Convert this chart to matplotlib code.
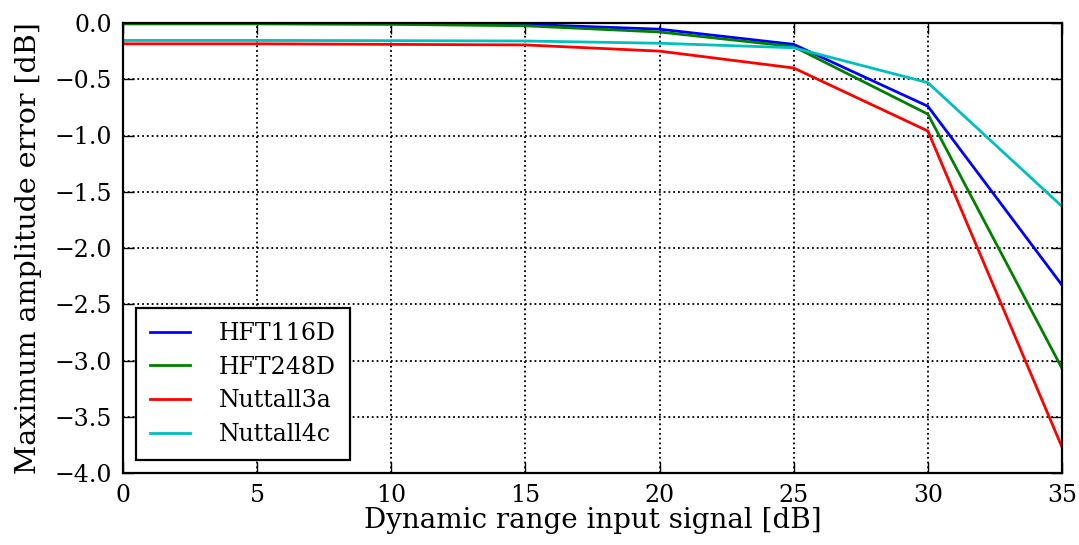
import matplotlib
matplotlib.use("Agg")
import matplotlib.pyplot as plt

# Data
x = [0, 5, 10, 15, 20, 25, 30, 35]
hft116d = [-0.005, -0.005, -0.007, -0.012, -0.055, -0.19, -0.74, -2.33]
hft248d = [-0.008, -0.008, -0.012, -0.025, -0.08, -0.21, -0.81, -3.07]
nuttall3a = [-0.185, -0.185, -0.19, -0.195, -0.25, -0.40, -0.96, -3.77]
nuttall4c = [-0.155, -0.155, -0.157, -0.16, -0.18, -0.22, -0.53, -1.63]

labels = ['HFT116D', 'HFT248D', 'Nuttall3a', 'Nuttall4c']
colors = ['b', 'g', 'r', 'c']

plt.rcParams['font.family'] = ['DejaVu Serif']

fig = plt.figure(figsize=(10.79, 5.45), dpi=100, facecolor='white')
ax = fig.add_axes([123 / 1079, 1 - 473 / 545, 939 / 1079, 450 / 545])

for series, label, color in zip([hft116d, hft248d, nuttall3a, nuttall4c], labels, colors):
    ax.plot(x, series, color=color, linewidth=2.0, label=label)

ax.set_xlim(0, 35)
ax.set_ylim(-4.0, 0.0)
ax.set_xticks(range(0, 36, 5))
ax.set_yticks([-4.0, -3.5, -3.0, -2.5, -2.0, -1.5, -1.0, -0.5, 0.0])
# wide minus sign like the reference
ax.yaxis.set_major_formatter(matplotlib.ticker.FuncFormatter(
    lambda v, p: ('%.1f' % v).replace('-', '\u2212')))
ax.grid(True, color='k', linestyle=':', linewidth=1.3)
ax.tick_params(direction='in', length=8, width=1, labelsize=17, top=True, right=True, pad=8)
for s in ax.spines.values():
    s.set_linewidth(1.6)

ax.set_xlabel('Dynamic range input signal [dB]', fontsize=20, labelpad=0)
ax.set_ylabel('Maximum amplitude error [dB]', fontsize=20.5, labelpad=9)

leg = ax.legend(loc='lower left', fontsize=17, fancybox=False, framealpha=1,
                edgecolor='k', borderpad=0.6, handlelength=1.7, handletextpad=1.2,
                labelspacing=0.45, borderaxespad=0.55)
leg.get_frame().set_linewidth(1.6)

fig.savefig('out.png', dpi=100, facecolor='white')
